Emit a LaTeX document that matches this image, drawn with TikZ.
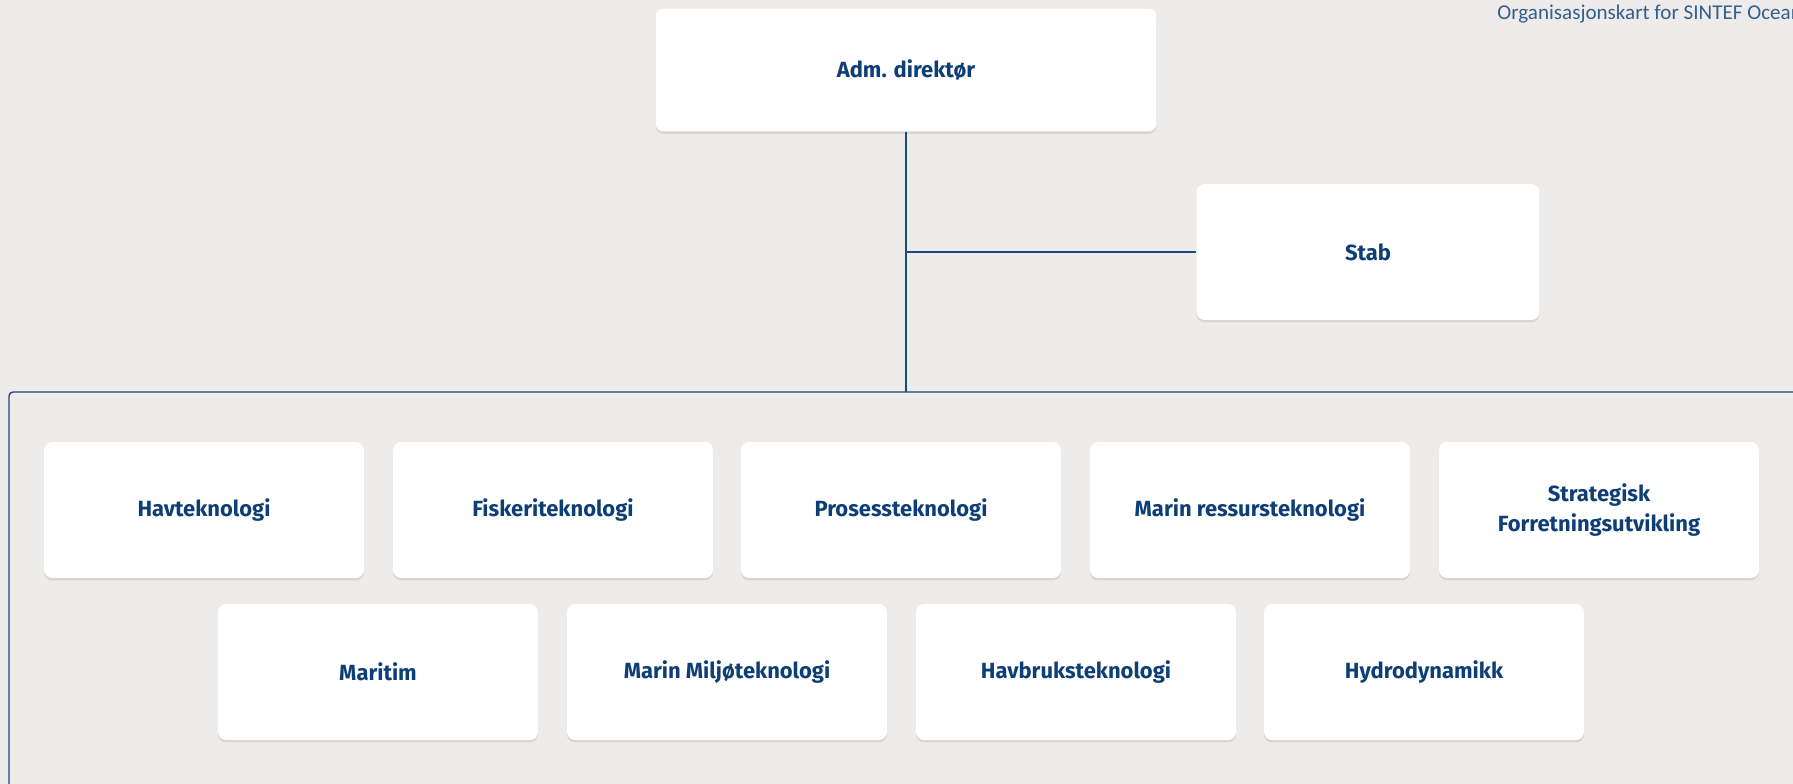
\documentclass[tikz,border=0pt]{standalone}
\usepackage{fontspec}
\setmainfont{Fira Sans}
\newfontfamily\titlefont{Carlito}
\usetikzlibrary{shadows}

\definecolor{bgcol}{RGB}{237,236,234}
\definecolor{linecol}{RGB}{28,72,128}
\definecolor{labelcol}{RGB}{14,62,118}
\definecolor{titlecol}{RGB}{52,94,142}

\tikzset{
  unitbox/.style={fill=white, rounded corners=0.16cm, inner sep=0pt,
    minimum width=6.4cm, minimum height=2.72cm, align=center, text=labelcol,
    font=\fontsize{12.5}{17}\selectfont\bfseries,
    drop shadow={shadow xshift=0cm, shadow yshift=-0.05cm, opacity=0.09, fill=black}},
  orgline/.style={draw=linecol, line width=0.8pt}
}

\begin{document}
\begin{tikzpicture}[x=0.02cm, y=-0.02cm]
\useasboundingbox (0,0) rectangle (1793,784);
\clip (0,0) rectangle (1793,784);
\fill[bgcol] (0,0) rectangle (1793,784);
\node[anchor=base west, inner sep=0pt, text=titlecol, font=\titlefont\fontsize{12}{14}\selectfont] (title) at (1497,20) {Organisasjonskart for SINTEF Ocean};

% ledelse
\node[unitbox, minimum width=10.02cm, minimum height=2.46cm] (adm) at (906,70) {Adm. direktør};
\node[unitbox, minimum width=6.86cm] (stab) at (1368,252) {Stab};

% avdelinger
\node[unitbox] (havtek) at (204,510) {Havteknologi};
\node[unitbox] (fisk) at (553,510) {Fiskeriteknologi};
\node[unitbox] (prosess) at (901,510) {Prosessteknologi};
\node[unitbox] (ressurs) at (1250,510) {Marin ressursteknologi};
\node[unitbox] (strategi) at (1599,510) {Strategisk\\Forretningsutvikling};
\node[unitbox] (maritim) at (378,672) {Maritim};
\node[unitbox] (miljo) at (727,672) {Marin Miljøteknologi};
\node[unitbox] (havbruk) at (1076,672) {Havbruksteknologi};
\node[unitbox] (hydro) at (1424,672) {Hydrodynamikk};

% linjer
\coordinate (framebl) at (9,800);
\coordinate (frametr) at (1810,392);
\draw[orgline, rounded corners=0.08cm] (framebl) |- (frametr);
\draw[orgline] (adm.south) -- (adm.south |- frametr);
\draw[orgline] (adm.south |- stab.west) -- (stab.west);

\end{tikzpicture}
\end{document}
